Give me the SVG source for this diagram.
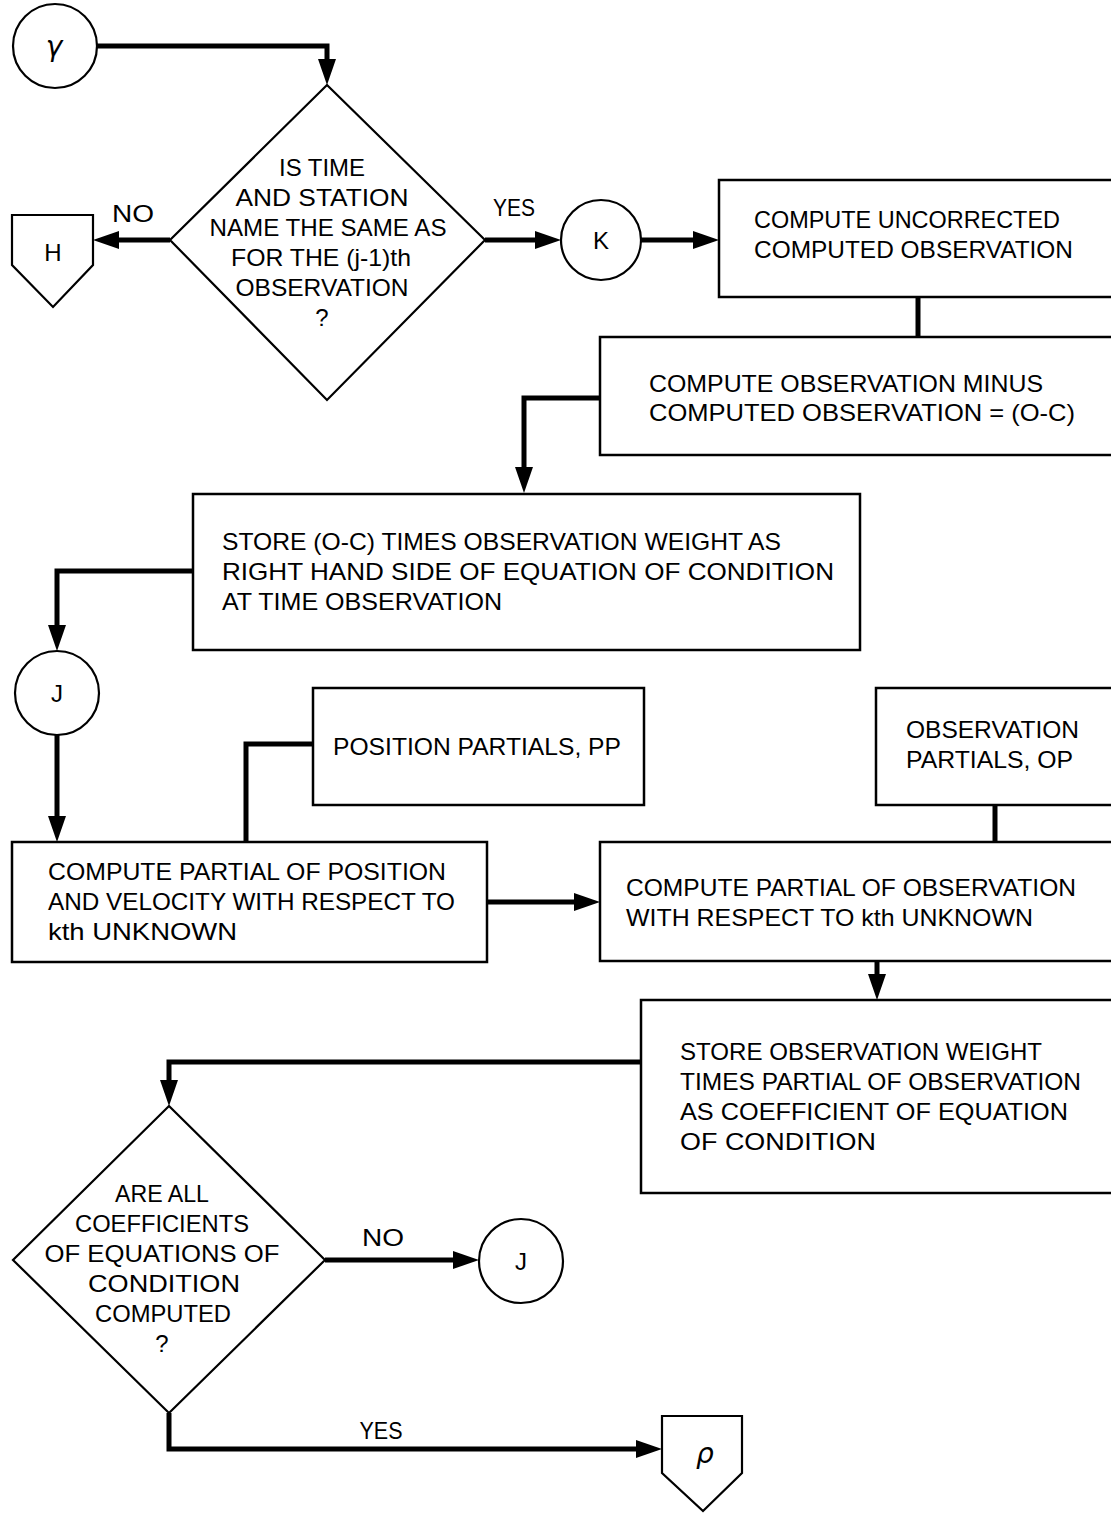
<svg xmlns="http://www.w3.org/2000/svg" width="1111" height="1513" viewBox="0 0 1111 1513">
  <style>
    text { font-family: "Liberation Sans", "DejaVu Sans", sans-serif; font-size: 24px; fill: #000; }
    .mid { text-anchor: middle; }
    .greek { font-family: "DejaVu Sans", "Liberation Sans", sans-serif; font-style: italic; font-size: 28px; }
    .box { fill: #fff; stroke: #000; stroke-width: 2.5; }
    .dec { fill: #fff; stroke: #000; stroke-width: 2.2; }
    .con { fill: #fff; stroke: #000; stroke-width: 2.2; }
    .flow { fill: none; stroke: #000; stroke-width: 5; stroke-linejoin: miter; }
  </style>
  <defs>
    <marker id="arrow" viewBox="0 0 26 18" refX="1" refY="9" markerWidth="26" markerHeight="18" markerUnits="userSpaceOnUse" orient="auto">
      <path d="M0,0 L26,9 L0,18 z" fill="#000"/>
    </marker>
  </defs>

  <!-- connectors -->
  <g id="connectors">
    <path class="flow" d="M97,46 H327 V60" marker-end="url(#arrow)"/>
    <path class="flow" d="M170,240 H118" marker-end="url(#arrow)"/>
    <path class="flow" d="M485,240 H536" marker-end="url(#arrow)"/>
    <path class="flow" d="M641,240 H694" marker-end="url(#arrow)"/>
    <path class="flow" d="M918,297 V337"/>
    <path class="flow" d="M600,398 H524 V468" marker-end="url(#arrow)"/>
    <path class="flow" d="M193,571 H57 V626" marker-end="url(#arrow)"/>
    <path class="flow" d="M57,735 V817" marker-end="url(#arrow)"/>
    <path class="flow" d="M313,744 H246 V842"/>
    <path class="flow" d="M995,805 V842"/>
    <path class="flow" d="M487,902 H575" marker-end="url(#arrow)"/>
    <path class="flow" d="M877,961 V975" marker-end="url(#arrow)"/>
    <path class="flow" d="M641,1062 H169 V1081" marker-end="url(#arrow)"/>
    <path class="flow" d="M325,1260 H454" marker-end="url(#arrow)"/>
    <path class="flow" d="M169,1413 V1449 H637" marker-end="url(#arrow)"/>
    <text class="mid" x="133" y="222" textLength="42" lengthAdjust="spacingAndGlyphs">NO</text>
    <text class="mid" x="514" y="216" textLength="42" lengthAdjust="spacingAndGlyphs">YES</text>
    <text class="mid" x="383" y="1246" textLength="42" lengthAdjust="spacingAndGlyphs">NO</text>
    <text class="mid" x="381" y="1439" textLength="43" lengthAdjust="spacingAndGlyphs">YES</text>
  </g>

  <!-- entry connector gamma -->
  <g id="gamma">
    <circle class="con" cx="55" cy="46" r="42"/>
    <text class="greek mid" x="54" y="56">γ</text>
  </g>

  <!-- decision: same time and station -->
  <g id="same-time-decision">
    <polygon class="dec" points="327,85 485,240 327,400 170,240"/>
    <text class="mid" x="322" y="176" textLength="86" lengthAdjust="spacingAndGlyphs">IS TIME</text>
    <text class="mid" x="322" y="206" textLength="173" lengthAdjust="spacingAndGlyphs">AND STATION</text>
    <text class="mid" x="328" y="236" textLength="237" lengthAdjust="spacingAndGlyphs">NAME THE SAME AS</text>
    <text class="mid" x="321" y="266" textLength="180" lengthAdjust="spacingAndGlyphs">FOR THE (j-1)th</text>
    <text class="mid" x="322" y="296" textLength="173" lengthAdjust="spacingAndGlyphs">OBSERVATION</text>
    <text class="mid" x="322" y="326">?</text>
  </g>

  <!-- off-page connector H -->
  <g id="offpage-H">
    <polygon class="con" points="12,215 93,215 93,265 53,307 12,265"/>
    <text class="mid" x="53" y="261">H</text>
  </g>

  <!-- connector K -->
  <g id="K">
    <circle class="con" cx="601" cy="240" r="40"/>
    <text class="mid" x="601" y="249">K</text>
  </g>

  <g id="compute-uncorrected">
    <rect class="box" x="719" y="180" width="400" height="117"/>
    <text x="754" y="228" textLength="306" lengthAdjust="spacingAndGlyphs">COMPUTE UNCORRECTED</text>
    <text x="754" y="258" textLength="319" lengthAdjust="spacingAndGlyphs">COMPUTED OBSERVATION</text>
  </g>

  <g id="compute-o-minus-c">
    <rect class="box" x="600" y="337" width="519" height="118"/>
    <text x="649" y="392" textLength="394" lengthAdjust="spacingAndGlyphs">COMPUTE OBSERVATION MINUS</text>
    <text x="649" y="421" textLength="426" lengthAdjust="spacingAndGlyphs">COMPUTED OBSERVATION = (O-C)</text>
  </g>

  <g id="store-rhs">
    <rect class="box" x="193" y="494" width="667" height="156"/>
    <text x="222" y="550" textLength="559" lengthAdjust="spacingAndGlyphs">STORE (O-C) TIMES OBSERVATION WEIGHT AS</text>
    <text x="222" y="580" textLength="612" lengthAdjust="spacingAndGlyphs">RIGHT HAND SIDE OF EQUATION OF CONDITION</text>
    <text x="222" y="610" textLength="280" lengthAdjust="spacingAndGlyphs">AT TIME OBSERVATION</text>
  </g>

  <!-- connector J -->
  <g id="J-entry">
    <circle class="con" cx="57" cy="693" r="42"/>
    <text class="mid" x="57" y="702">J</text>
  </g>

  <g id="position-partials">
    <rect class="box" x="313" y="688" width="331" height="117"/>
    <text x="333" y="755" textLength="288" lengthAdjust="spacingAndGlyphs">POSITION PARTIALS, PP</text>
  </g>

  <g id="observation-partials">
    <rect class="box" x="876" y="688" width="243" height="117"/>
    <text x="906" y="738" textLength="173" lengthAdjust="spacingAndGlyphs">OBSERVATION</text>
    <text x="906" y="768" textLength="167" lengthAdjust="spacingAndGlyphs">PARTIALS, OP</text>
  </g>

  <g id="compute-position-partial">
    <rect class="box" x="12" y="842" width="475" height="120"/>
    <text x="48" y="880" textLength="398" lengthAdjust="spacingAndGlyphs">COMPUTE PARTIAL OF POSITION</text>
    <text x="48" y="910" textLength="407" lengthAdjust="spacingAndGlyphs">AND VELOCITY WITH RESPECT TO</text>
    <text x="48" y="940" textLength="189" lengthAdjust="spacingAndGlyphs">kth UNKNOWN</text>
  </g>

  <g id="compute-observation-partial">
    <rect class="box" x="600" y="842" width="519" height="119"/>
    <text x="626" y="896" textLength="450" lengthAdjust="spacingAndGlyphs">COMPUTE PARTIAL OF OBSERVATION</text>
    <text x="626" y="926" textLength="407" lengthAdjust="spacingAndGlyphs">WITH RESPECT TO kth UNKNOWN</text>
  </g>

  <g id="store-coefficient">
    <rect class="box" x="641" y="1000" width="478" height="193"/>
    <text x="680" y="1060" textLength="362" lengthAdjust="spacingAndGlyphs">STORE OBSERVATION WEIGHT</text>
    <text x="680" y="1090" textLength="401" lengthAdjust="spacingAndGlyphs">TIMES PARTIAL OF OBSERVATION</text>
    <text x="680" y="1120" textLength="388" lengthAdjust="spacingAndGlyphs">AS COEFFICIENT OF EQUATION</text>
    <text x="680" y="1150" textLength="196" lengthAdjust="spacingAndGlyphs">OF CONDITION</text>
  </g>

  <!-- decision: all coefficients computed -->
  <g id="all-computed-decision">
    <polygon class="dec" points="169,1106 325,1260 169,1413 13,1260"/>
    <text class="mid" x="162" y="1202" textLength="94" lengthAdjust="spacingAndGlyphs">ARE ALL</text>
    <text class="mid" x="162" y="1232" textLength="174" lengthAdjust="spacingAndGlyphs">COEFFICIENTS</text>
    <text class="mid" x="162" y="1262" textLength="235" lengthAdjust="spacingAndGlyphs">OF EQUATIONS OF</text>
    <text class="mid" x="164" y="1292" textLength="152" lengthAdjust="spacingAndGlyphs">CONDITION</text>
    <text class="mid" x="163" y="1322" textLength="136" lengthAdjust="spacingAndGlyphs">COMPUTED</text>
    <text class="mid" x="162" y="1352">?</text>
  </g>

  <g id="J-loop">
    <circle class="con" cx="521" cy="1261" r="42"/>
    <text class="mid" x="521" y="1270">J</text>
  </g>

  <!-- off-page connector rho -->
  <g id="offpage-rho">
    <polygon class="con" points="662,1416 742,1416 742,1473 703,1511 662,1473"/>
    <text class="greek mid" x="705" y="1463">ρ</text>
  </g>
</svg>
